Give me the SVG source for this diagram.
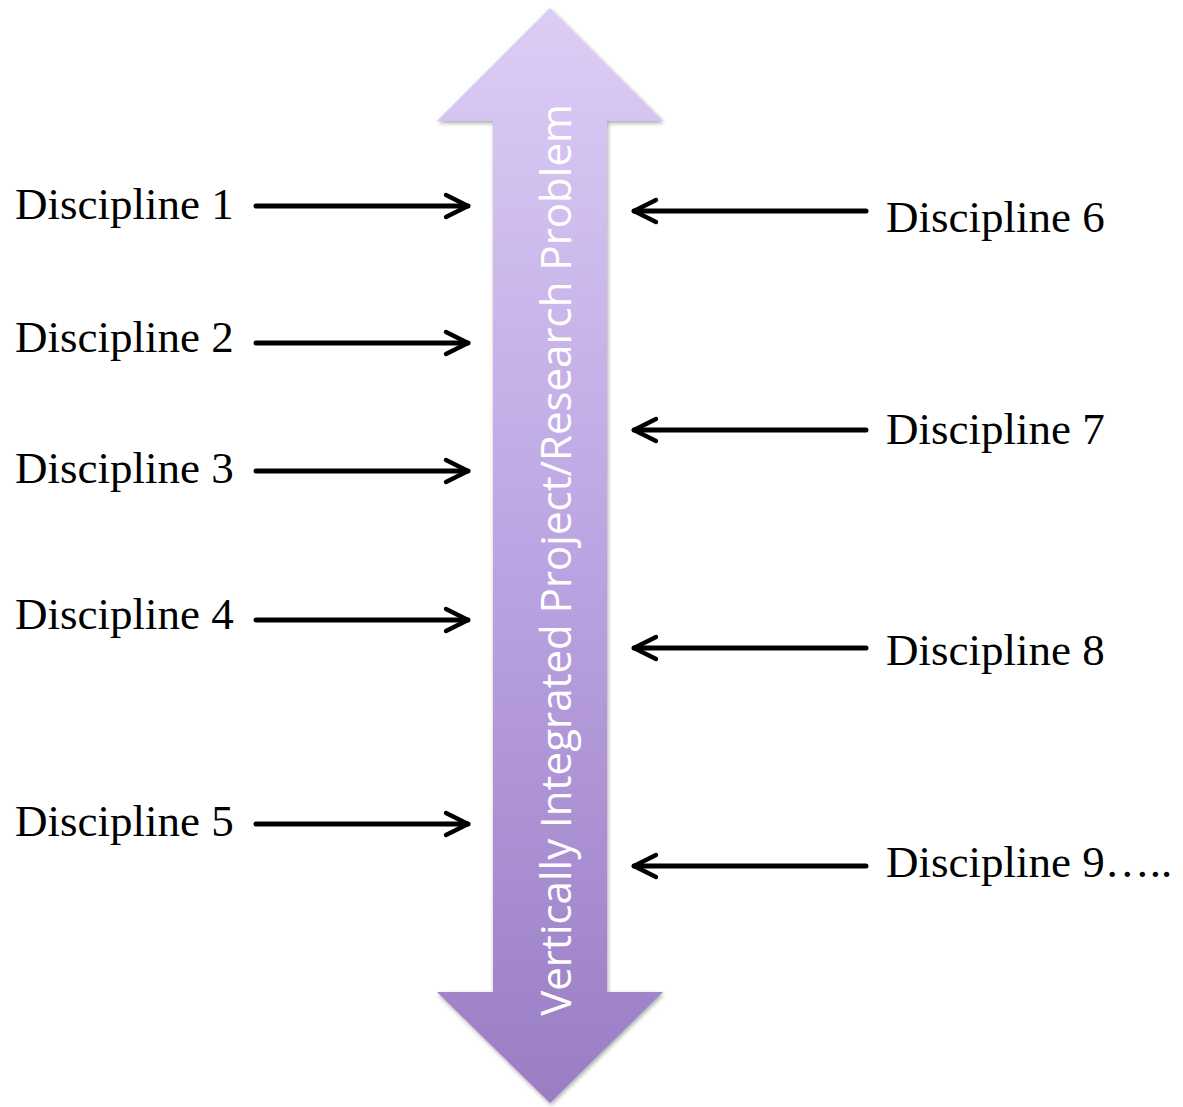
<svg xmlns="http://www.w3.org/2000/svg" width="1183" height="1107" viewBox="0 0 1183 1107">
<style>
.lbl{font-family:"Liberation Serif","Times New Roman",serif;font-size:45px;fill:#000}
.con{stroke:#000;stroke-width:5;fill:none;stroke-linecap:round;stroke-linejoin:round}
.vt{font-family:"Open Sans","DejaVu Sans",sans-serif;font-size:42px;fill:#fff}
</style>
<defs>
<linearGradient id="g" x1="0" y1="0" x2="0" y2="1">
<stop offset="0" stop-color="#dccdf5"/>
<stop offset="0.5" stop-color="#bca4e2"/>
<stop offset="1" stop-color="#9a7dc3"/>
</linearGradient>
<filter id="sh" x="-20%" y="-5%" width="140%" height="110%">
<feDropShadow dx="1" dy="2" stdDeviation="2" flood-color="#000" flood-opacity="0.35"/>
</filter>
<marker id="ah" viewBox="0 0 10 10" refX="9" refY="5" markerWidth="5.5" markerHeight="5.5" orient="auto" markerUnits="strokeWidth">
<path d="M1,1 L9,5 L1,9" fill="none" stroke="#000" stroke-width="1.6" stroke-linecap="round" stroke-linejoin="round"/>
</marker>
</defs>
<g id="bigarrow">
<path d="M550,8 L663,121 L607,121 L607,992 L663,992 L550,1103 L437,992 L493,992 L493,121 L437,121 Z" fill="url(#g)" filter="url(#sh)"/>
<text class="vt" transform="translate(571,560) rotate(-90)" text-anchor="middle">Vertically Integrated Project/Research Problem</text>
</g>
<g id="connectors">
<line class="con" x1="256" y1="206" x2="468" y2="206" marker-end="url(#ah)"/>
<line class="con" x1="256" y1="343" x2="468" y2="343" marker-end="url(#ah)"/>
<line class="con" x1="256" y1="471" x2="468" y2="471" marker-end="url(#ah)"/>
<line class="con" x1="256" y1="620" x2="468" y2="620" marker-end="url(#ah)"/>
<line class="con" x1="256" y1="824" x2="468" y2="824" marker-end="url(#ah)"/>
<line class="con" x1="866" y1="211" x2="634" y2="211" marker-end="url(#ah)"/>
<line class="con" x1="866" y1="430" x2="634" y2="430" marker-end="url(#ah)"/>
<line class="con" x1="866" y1="648" x2="634" y2="648" marker-end="url(#ah)"/>
<line class="con" x1="866" y1="866" x2="634" y2="866" marker-end="url(#ah)"/>
</g>
<g id="d1"><text class="lbl" x="15" y="219">Discipline 1</text></g>
<g id="d2"><text class="lbl" x="15" y="352">Discipline 2</text></g>
<g id="d3"><text class="lbl" x="15" y="483">Discipline 3</text></g>
<g id="d4"><text class="lbl" x="15" y="629">Discipline 4</text></g>
<g id="d5"><text class="lbl" x="15" y="836">Discipline 5</text></g>
<g id="d6"><text class="lbl" x="886" y="232">Discipline 6</text></g>
<g id="d7"><text class="lbl" x="886" y="444">Discipline 7</text></g>
<g id="d8"><text class="lbl" x="886" y="665">Discipline 8</text></g>
<g id="d9"><text class="lbl" x="886" y="877">Discipline 9…..</text></g>
</svg>
